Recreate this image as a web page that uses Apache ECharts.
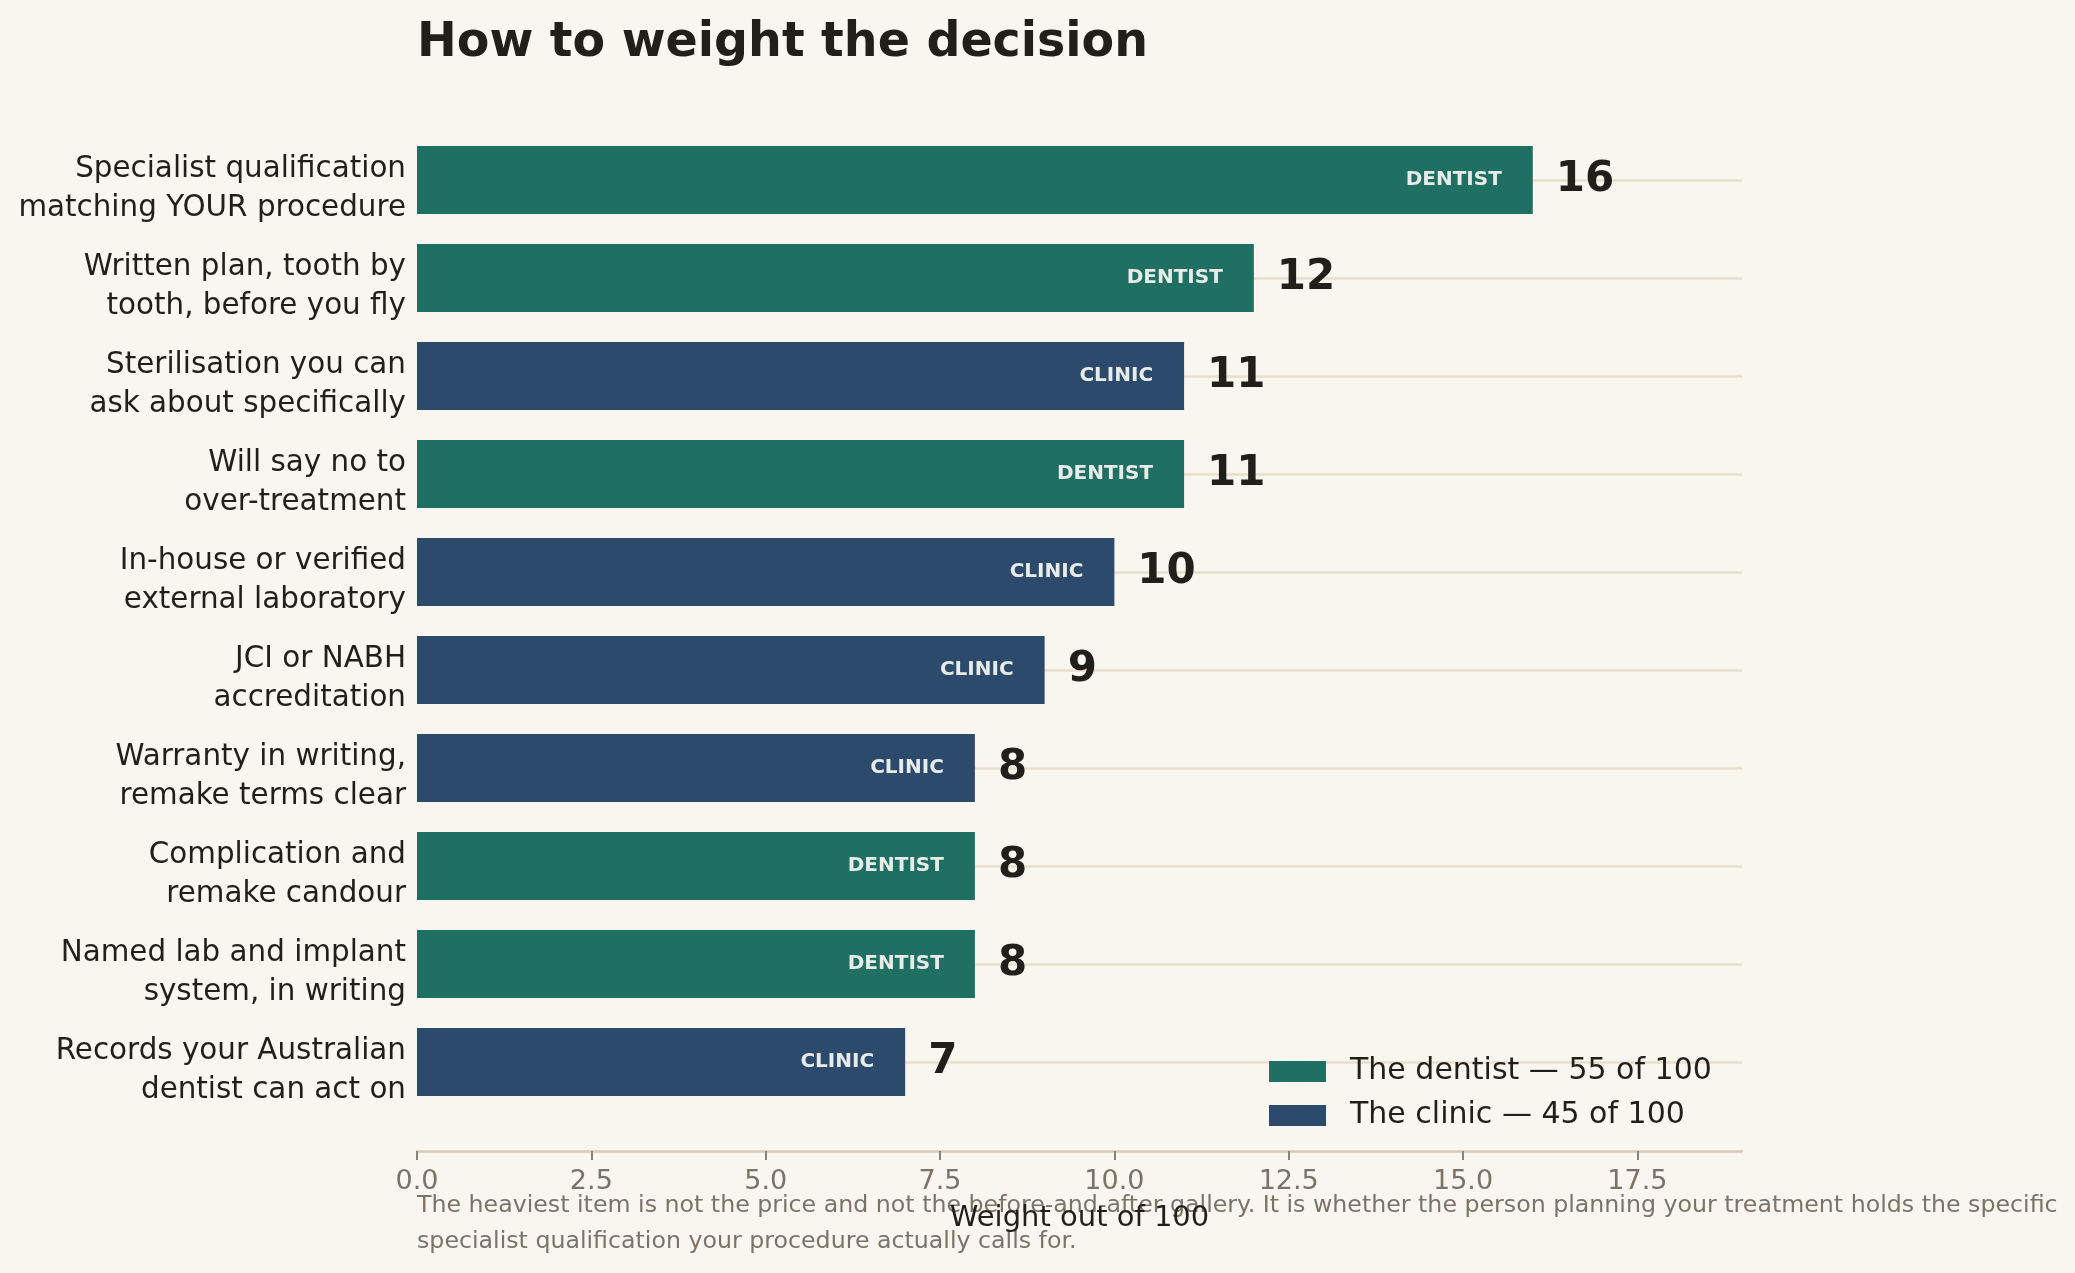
<!DOCTYPE html>
<html>
<head>
<meta charset="utf-8">
<script src="https://cdn.jsdelivr.net/npm/echarts@6/dist/echarts.min.js"></script>
<style>
html,body{margin:0;padding:0;background:#f9f6ef;}
#chart{width:2075px;height:1273px;}
</style>
</head>
<body>
<div id="chart"></div>
<script>
const categories = [
  "Specialist qualification\nmatching YOUR procedure",
  "Written plan, tooth by\ntooth, before you fly",
  "Sterilisation you can\nask about specifically",
  "Will say no to\nover-treatment",
  "In-house or verified\nexternal laboratory",
  "JCI or NABH\naccreditation",
  "Warranty in writing,\nremake terms clear",
  "Complication and\nremake candour",
  "Named lab and implant\nsystem, in writing",
  "Records your Australian\ndentist can act on"
];
const weights = [16, 12, 11, 11, 10, 9, 8, 8, 8, 7];
const owners = ["DENTIST","DENTIST","CLINIC","DENTIST","CLINIC","CLINIC","CLINIC","DENTIST","DENTIST","CLINIC"];
const xTicks = [0, 2.5, 5, 7.5, 10, 12.5, 15, 17.5];
const xMax = 19;
const title = "How to weight the decision";
const xName = "Weight out of 100";
const footnote = "The heaviest item is not the price and not the before-and-after gallery. It is whether the person planning your treatment holds the specific\nspecialist qualification your procedure actually calls for.";

const TEAL = "#1f6f62";
const NAVY = "#2c4a6c";
const INK = "#221f1a";
const GREY = "#7b7367";
const FONT = "DejaVu Sans";

const dentistVals = weights.map((v, i) => owners[i] === "DENTIST" ? v : "-");
const clinicVals = weights.map((v, i) => owners[i] === "CLINIC" ? v : "-");
const dentistSum = weights.reduce((s, v, i) => s + (owners[i] === "DENTIST" ? v : 0), 0);
const clinicSum = weights.reduce((s, v, i) => s + (owners[i] === "CLINIC" ? v : 0), 0);
const dentistName = "The dentist \u2014 " + dentistSum + " of 100";
const clinicName = "The clinic \u2014 " + clinicSum + " of 100";

const innerLabel = (txt) => ({
  show: true,
  position: "insideRight",
  distance: 31,
  formatter: txt,
  color: "#e8ece9",
  fontFamily: FONT,
  fontWeight: "bold",
  fontSize: 20
});

const chart = echarts.init(document.getElementById("chart"), null, {renderer: "canvas"});
chart.setOption({
  backgroundColor: "#f9f6ef",
  animation: false,
  textStyle: {fontFamily: FONT},
  title: {
    text: title,
    left: 412,
    top: 15,
    textStyle: {fontFamily: FONT, fontWeight: "bold", fontSize: 47.5, color: INK}
  },
  legend: {
    orient: "vertical",
    left: 1264,
    top: 1051,
    itemWidth: 57,
    itemHeight: 21,
    itemGap: 13,
    icon: "rect",
    data: [dentistName, clinicName],
    textStyle: {fontFamily: FONT, fontSize: 30, color: INK, lineHeight: 31, padding: [0, 0, 0, 19]}
  },
  grid: [
    {left: 417, right: 333, top: 131, bottom: 162, containLabel: false, outerBoundsMode: "none"},
    {left: 417, right: 333, top: 180, bottom: 211, containLabel: false, outerBoundsMode: "none"},
    {left: 417, right: 333, top: 189, bottom: 202, containLabel: false, outerBoundsMode: "none"}
  ],
  xAxis: [
    {
      gridIndex: 0,
      type: "value",
      min: 0,
      max: xMax,
      offset: 40,
      name: xName,
      nameLocation: "middle",
      nameGap: 53,
      nameTextStyle: {fontFamily: FONT, fontSize: 29, color: INK},
      axisLine: {show: true, lineStyle: {color: "#d9ccb5", width: 2.5}},
      axisTick: {show: true, length: 9, lineStyle: {color: "#8a8276", width: 2}, customValues: xTicks},
      axisLabel: {show: true, customValues: xTicks, margin: 17, fontFamily: FONT, fontSize: 27, color: GREY,
        formatter: (v) => v.toFixed(1)},
      splitLine: {show: false}
    },
    {gridIndex: 1, type: "value", min: 0, max: xMax, show: false},
    {gridIndex: 2, type: "value", min: 0, max: xMax, show: false}
  ],
  yAxis: [
    {
      gridIndex: 0,
      type: "category",
      inverse: true,
      data: categories,
      axisLine: {show: false},
      axisTick: {show: false},
      splitLine: {show: false},
      axisLabel: {show: false}
    },
    {
      gridIndex: 1,
      type: "category",
      inverse: true,
      boundaryGap: false,
      data: categories,
      axisLine: {show: false},
      axisTick: {show: false},
      axisLabel: {show: false},
      splitLine: {show: true, lineStyle: {color: "#e9dece", width: 2.5}}
    },
    {
      gridIndex: 2,
      type: "category",
      inverse: true,
      boundaryGap: false,
      data: categories,
      axisLine: {show: false},
      axisTick: {show: false},
      splitLine: {show: false},
      axisLabel: {show: true, interval: 0, showMinLabel: true, showMaxLabel: true, hideOverlap: false,
        margin: 11, fontFamily: FONT, fontSize: 29.4, lineHeight: 39, color: INK, align: "right"}
    }
  ],
  series: [
    {
      name: dentistName,
      type: "bar",
      xAxisIndex: 0, yAxisIndex: 0,
      stack: "w",
      barWidth: 68,
      data: dentistVals,
      itemStyle: {color: TEAL},
      label: innerLabel("DENTIST"),
      z: 3
    },
    {
      name: clinicName,
      type: "bar",
      xAxisIndex: 0, yAxisIndex: 0,
      stack: "w",
      barWidth: 68,
      data: clinicVals,
      itemStyle: {color: NAVY},
      label: innerLabel("CLINIC"),
      z: 3
    },
    {
      name: "values",
      type: "scatter",
      xAxisIndex: 0, yAxisIndex: 0,
      symbolSize: 0,
      itemStyle: {opacity: 1},
      data: weights.map((v, i) => [v, i]),
      label: {
        show: true,
        position: "right",
        distance: 23,
        formatter: (p) => String(p.value[0]),
        fontFamily: FONT,
        fontWeight: "bold",
        fontSize: 42,
        color: INK,
        opacity: 1
      },
      z: 4
    }
  ],
  graphic: [
    {
      type: "text",
      left: 417,
      top: 1188,
      style: {text: footnote, fontFamily: FONT, fontSize: 23.7, lineHeight: 36, fill: GREY}
    }
  ]
});
</script>
</body>
</html>
